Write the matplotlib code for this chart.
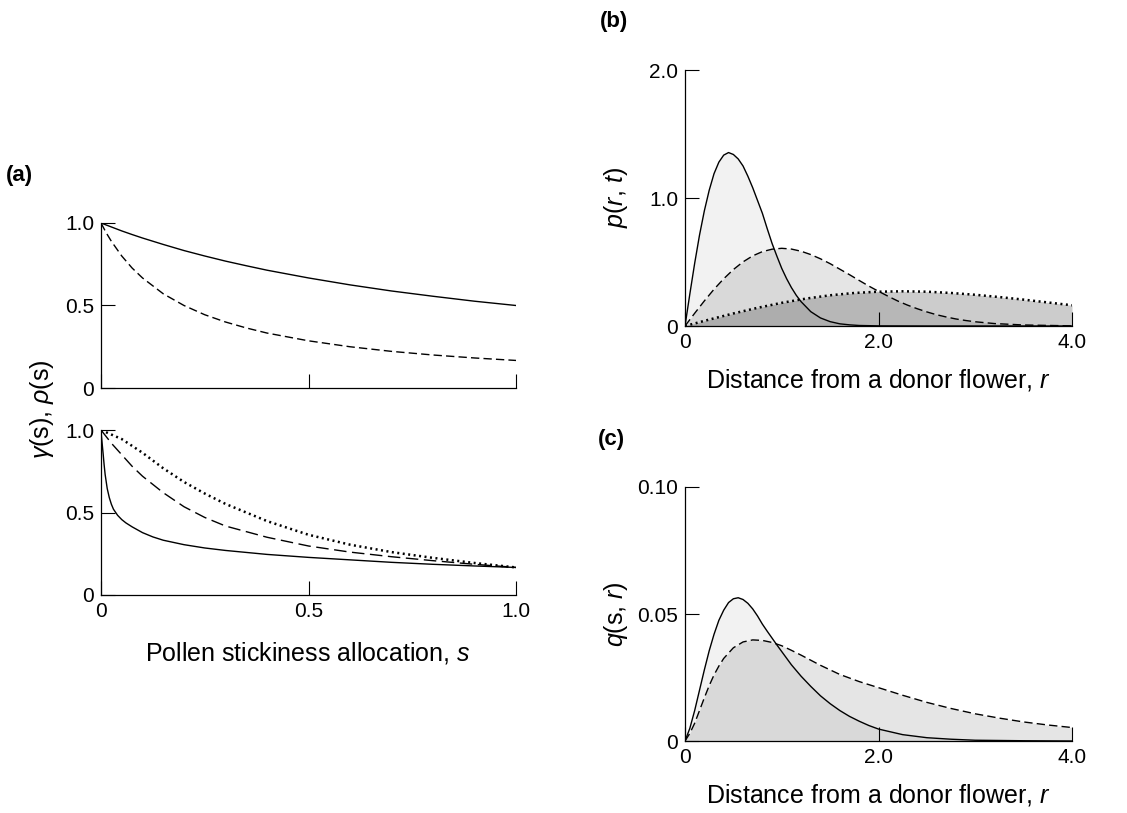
import numpy as np
import matplotlib.pyplot as plt

plt.rcParams['font.family'] = ['Liberation Sans', 'DejaVu Sans']
plt.rcParams['mathtext.fontset'] = 'custom'
plt.rcParams['mathtext.it'] = 'Liberation Sans:italic'
plt.rcParams['mathtext.rm'] = 'Liberation Sans'

# (a) upper panel
s_top = [0, 0.0125, 0.025, 0.05, 0.075, 0.1, 0.15, 0.2, 0.25, 0.3, 0.35, 0.4, 0.5, 0.6, 0.7, 0.8, 0.9, 1.0]
top_solid = [1.0, 0.988, 0.976, 0.952, 0.930, 0.909, 0.870, 0.833, 0.800, 0.769, 0.741, 0.714, 0.667, 0.625, 0.588, 0.556, 0.526, 0.500]
top_dash = [1.0, 0.941, 0.889, 0.80, 0.727, 0.667, 0.571, 0.50, 0.444, 0.40, 0.364, 0.333, 0.286, 0.25, 0.222, 0.20, 0.182, 0.167]

# (a) lower panel
s_bot_solid = [0, 0.001, 0.0025, 0.005, 0.0075, 0.01, 0.015, 0.02, 0.025, 0.03, 0.04, 0.05, 0.06, 0.075, 0.1, 0.125,
               0.15, 0.2, 0.25, 0.3, 0.4, 0.5, 0.6, 0.7, 0.8, 0.9, 1.0]
bot_solid = [1.0, 0.965, 0.925, 0.86, 0.79, 0.73, 0.645, 0.59, 0.55, 0.52, 0.483, 0.457, 0.437, 0.413, 0.378, 0.352,
             0.332, 0.305, 0.285, 0.27, 0.246, 0.228, 0.213, 0.198, 0.186, 0.176, 0.167]
s_bot_dash = [0, 0.025, 0.05, 0.075, 0.1, 0.15, 0.2, 0.25, 0.3, 0.4, 0.5, 0.6, 0.7, 0.8, 0.9, 1.0]
bot_dash = [1.0, 0.92, 0.85, 0.78, 0.72, 0.62, 0.535, 0.47, 0.418, 0.35, 0.297, 0.26, 0.232, 0.208, 0.186, 0.167]
s_bot_dot = [0, 0.05, 0.1, 0.15, 0.2, 0.25, 0.3, 0.4, 0.5, 0.6, 0.7, 0.8, 0.9, 1.0]
bot_dot = [1.0, 0.945, 0.862, 0.768, 0.685, 0.615, 0.552, 0.448, 0.365, 0.305, 0.26, 0.225, 0.194, 0.167]

# (b) p(r, t)
r_b_solid = [0, 0.05, 0.1, 0.15, 0.2, 0.25, 0.3, 0.35, 0.4, 0.45, 0.5, 0.55, 0.6, 0.65, 0.7, 0.75, 0.8, 0.85, 0.9,
             0.95, 1.0, 1.05, 1.1, 1.15, 1.2, 1.3, 1.4, 1.5, 1.6, 1.7, 1.8, 2.0, 2.5, 4.0]
p_solid = [0, 0.25, 0.49, 0.71, 0.90, 1.06, 1.19, 1.28, 1.335, 1.355, 1.34, 1.305, 1.25, 1.17, 1.08, 0.98, 0.88, 0.76,
           0.645, 0.545, 0.45, 0.37, 0.30, 0.24, 0.19, 0.112, 0.063, 0.034, 0.017, 0.009, 0.004, 0.001, 0, 0]
r_b_dash = [0, 0.1, 0.2, 0.3, 0.4, 0.5, 0.6, 0.7, 0.8, 0.9, 1.0, 1.1, 1.2, 1.3, 1.4, 1.5, 1.6, 1.7, 1.8, 1.9, 2.0,
            2.1, 2.2, 2.3, 2.4, 2.5, 2.6, 2.7, 2.8, 2.9, 3.0, 3.2, 3.5, 4.0]
p_dash = [0, 0.0995, 0.196, 0.287, 0.369, 0.441, 0.501, 0.548, 0.581, 0.600, 0.607, 0.601, 0.584, 0.558, 0.525, 0.487,
          0.444, 0.401, 0.356, 0.312, 0.271, 0.232, 0.195, 0.163, 0.135, 0.110, 0.088, 0.0705, 0.055, 0.043, 0.033,
          0.019, 0.008, 0.001]
r_b_dot = [0, 0.25, 0.5, 0.75, 1.0, 1.25, 1.5, 1.75, 2.0, 2.25, 2.5, 2.75, 3.0, 3.25, 3.5, 3.75, 4.0]
p_dot = [0, 0.050, 0.098, 0.142, 0.181, 0.214, 0.240, 0.258, 0.268, 0.271, 0.268, 0.258, 0.244, 0.226, 0.206, 0.184, 0.162]

# (c) q(s, r)
r_c_solid = [0, 0.05, 0.1, 0.15, 0.2, 0.25, 0.3, 0.35, 0.4, 0.45, 0.5, 0.55, 0.6, 0.65, 0.7, 0.75, 0.8, 0.85, 0.9,
             0.95, 1.0, 1.1, 1.2, 1.3, 1.4, 1.5, 1.6, 1.7, 1.8, 1.9, 2.0, 2.25, 2.5, 2.75, 3.0, 3.5, 4.0]
q_solid = [0, 0.005, 0.012, 0.020, 0.028, 0.0355, 0.042, 0.0475, 0.0515, 0.0545, 0.0560, 0.0564, 0.0557, 0.0542,
           0.052, 0.0492, 0.046, 0.0432, 0.0405, 0.0378, 0.0352, 0.030, 0.0255, 0.0215, 0.0178, 0.0147, 0.0120,
           0.0097, 0.0078, 0.0061, 0.0047, 0.0025, 0.0013, 0.0007, 0.0003, 0.0001, 0]
r_c_dash = [0, 0.05, 0.1, 0.15, 0.2, 0.25, 0.3, 0.35, 0.4, 0.5, 0.6, 0.7, 0.8, 0.9, 1.0, 1.1, 1.2, 1.3, 1.4, 1.6, 1.8,
            2.0, 2.25, 2.5, 2.75, 3.0, 3.25, 3.5, 3.75, 4.0]
q_dash = [0, 0.003, 0.007, 0.012, 0.017, 0.0218, 0.026, 0.0295, 0.0325, 0.0367, 0.0390, 0.0398, 0.0396, 0.0388,
          0.0375, 0.0357, 0.0338, 0.0318, 0.0298, 0.0262, 0.0234, 0.0210, 0.0180, 0.0152, 0.0128, 0.0107, 0.0090,
          0.0075, 0.0063, 0.0053]

W, H = 1127, 813
LW = 1.0
DASH = (0, (6, 3))
DOT = (0, (0.8, 1.4))


def box(x0, y0, x1, y1):
    # pixel box (left, top, right, bottom) -> figure fraction
    return [x0 / W, 1 - y1 / H, (x1 - x0) / W, (y1 - y0) / H]


def style(ax, xlim, ylim, xticks, xlabels, yticks, ylabels):
    ax.spines['top'].set_visible(False)
    ax.spines['right'].set_visible(False)
    for sp in ['left', 'bottom']:
        ax.spines[sp].set_linewidth(0.9)
    ax.set_xlim(xlim)
    ax.set_ylim(ylim)
    ax.set_xticks(xticks)
    ax.set_xticklabels(xlabels)
    ax.set_yticks(yticks)
    ax.set_yticklabels(ylabels)
    ax.tick_params(direction='in', length=10, width=0.8, labelsize=15, pad=5)


fig = plt.figure(figsize=(W / 100, H / 100), dpi=100)

ax1 = fig.add_axes(box(101, 223, 516, 388))
ax1.plot(s_top, top_solid, color='black', lw=LW)
ax1.plot(s_top, top_dash, color='black', lw=LW, ls=DASH)
style(ax1, (0, 1), (0, 1), [0, 0.5, 1.0], ['', '', ''], [0, 0.5, 1.0], ['0', '0.5', '1.0'])

ax2 = fig.add_axes(box(101, 430, 516, 595))
ax2.plot(s_bot_solid, bot_solid, color='black', lw=LW)
ax2.plot(s_bot_dash, bot_dash, color='black', lw=LW, ls=(0, (9, 4)))
ax2.plot(s_bot_dot, bot_dot, color='black', lw=1.8, ls=DOT)
style(ax2, (0, 1), (0, 1), [0, 0.5, 1.0], ['0', '0.5', '1.0'], [0, 0.5, 1.0], ['0', '0.5', '1.0'])

ax3 = fig.add_axes(box(685, 70, 1072, 326))
ax3.fill_between(r_b_solid, 0, p_solid, color='black', alpha=0.05, lw=0)
ax3.fill_between(r_b_dash, 0, p_dash, color='black', alpha=0.10, lw=0)
ax3.fill_between(r_b_dot, 0, p_dot, color='black', alpha=0.20, lw=0)
ax3.plot(r_b_solid, p_solid, color='black', lw=LW)
ax3.plot(r_b_dash, p_dash, color='black', lw=LW, ls=DASH)
ax3.plot(r_b_dot, p_dot, color='black', lw=1.8, ls=DOT)
style(ax3, (0, 4), (0, 2), [0, 2, 4], ['0', '2.0', '4.0'], [0, 1, 2], ['0', '1.0', '2.0'])

ax4 = fig.add_axes(box(685, 487, 1072, 741))
ax4.fill_between(r_c_solid, 0, q_solid, color='black', alpha=0.05, lw=0)
ax4.fill_between(r_c_dash, 0, q_dash, color='black', alpha=0.10, lw=0)
ax4.plot(r_c_solid, q_solid, color='black', lw=LW)
ax4.plot(r_c_dash, q_dash, color='black', lw=LW, ls=DASH)
style(ax4, (0, 4), (0, 0.1), [0, 2, 4], ['0', '2.0', '4.0'], [0, 0.05, 0.1], ['0', '0.05', '0.10'])

# panel letters and axis titles
fig.text(6 / W, 1 - 176 / H, '(a)', fontsize=16, fontweight='bold', va='center')
fig.text(600 / W, 1 - 22 / H, '(b)', fontsize=16, fontweight='bold', va='center')
fig.text(598 / W, 1 - 439 / H, '(c)', fontsize=16, fontweight='bold', va='center')

fig.text(42 / W, 1 - 409 / H, r'$\mathit{\gamma}$(s), $\mathit{\rho}$(s)', fontsize=18,
         rotation=90, ha='center', va='center')
fig.text(616 / W, 1 - 198 / H, r'$\mathit{p}$($\mathit{r}$, $\mathit{t}$)', fontsize=18,
         rotation=90, ha='center', va='center')
fig.text(616 / W, 1 - 614 / H, r'$\mathit{q}$(s, $\mathit{r}$)', fontsize=18,
         rotation=90, ha='center', va='center')

fig.text(308 / W, 1 - 653 / H, r'Pollen stickiness allocation, $\mathit{s}$', fontsize=18,
         ha='center', va='center')
fig.text(878 / W, 1 - 380 / H, r'Distance from a donor flower, $\mathit{r}$', fontsize=18,
         ha='center', va='center')
fig.text(878 / W, 1 - 795 / H, r'Distance from a donor flower, $\mathit{r}$', fontsize=18,
         ha='center', va='center')

fig.savefig('out.png', dpi=100)
